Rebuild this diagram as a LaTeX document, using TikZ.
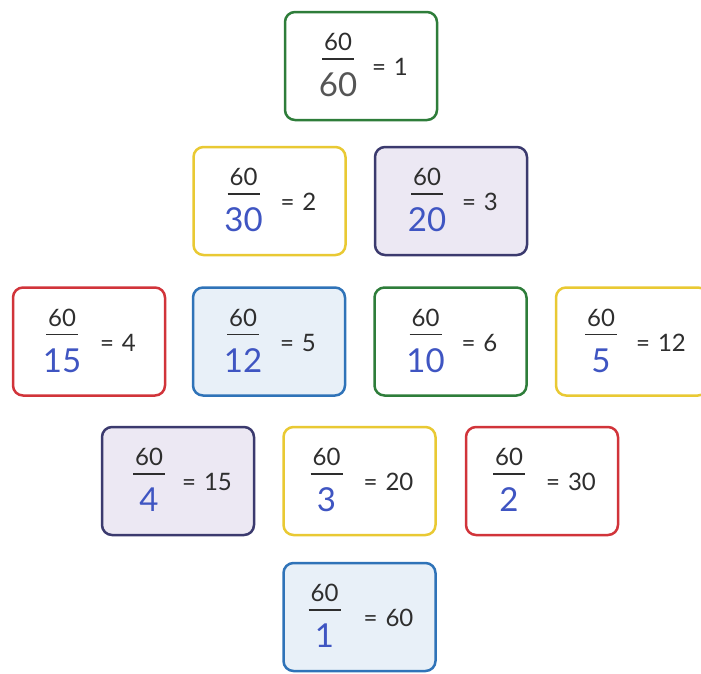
\documentclass[tikz,border=0pt]{standalone}
\usepackage{fontspec}
\setmainfont{Lato}
\usepackage{tikz}
\usetikzlibrary{positioning,calc}
\definecolor{cardGreen}{HTML}{2E7D3A}
\definecolor{cardYellow}{HTML}{E9C933}
\definecolor{cardPurple}{HTML}{3B3A6E}
\definecolor{cardRed}{HTML}{D1343A}
\definecolor{cardBlue}{HTML}{2F73B8}
\definecolor{fillBlue}{HTML}{E8F0F8}
\definecolor{fillLav}{HTML}{ECE8F3}
\definecolor{inkGray}{HTML}{2E2E2E}
\definecolor{penBlue}{HTML}{3F55C2}
\definecolor{pencilGray}{HTML}{555555}

\begin{document}
\begin{tikzpicture}[x=1pt,y=-1pt,
  card/.style={draw=#1,line width=2.5pt,rounded corners=10pt,minimum width=152pt,minimum height=108pt},
  numtext/.style={text=inkGray,font=\fontsize{24}{26}\selectfont,inner sep=0pt},
  handtext/.style={font=\fontsize{33}{35}\selectfont,inner sep=0pt},
  eqtext/.style={text=inkGray,font=\fontsize{24}{26}\selectfont,inner sep=0pt},
  fracbar/.style={draw=inkGray,line width=1.6pt}]
\useasboundingbox (0,0) rectangle (701,673);
% cards: name/x/y/border/fill/pen/denominator/value/fraction shift
\foreach \nm/\x/\y/\col/\fil/\pen/\den/\val/\fx in {
  one/361/66/cardGreen/white/pencilGray/60/1/-23,
  two/269.5/201/cardYellow/white/penBlue/30/2/-26,
  three/451/201/cardPurple/fillLav/penBlue/20/3/-24,
  four/89/341.5/cardRed/white/penBlue/15/4/-27,
  five/269/341.5/cardBlue/fillBlue/penBlue/12/5/-26,
  six/450.5/341.5/cardGreen/white/penBlue/10/6/-25,
  twelve/632/341.5/cardYellow/white/penBlue/5/12/-31,
  fifteen/178/481/cardPurple/fillLav/penBlue/4/15/-29,
  twenty/359.5/481/cardYellow/white/penBlue/3/20/-33,
  thirty/542/481/cardRed/white/penBlue/2/30/-33,
  sixty/359.5/617/cardBlue/fillBlue/penBlue/1/60/-35}{
  \node[card=\col, fill=\fil] (card-\nm) at (\x,\y) {};
  \node[numtext] (num-\nm) at ($(card-\nm.center)+(\fx,-24)$) {60};
  \draw[fracbar] ($(card-\nm.center)+(\fx-16,-7)$) -- ++(32,0);
  \node[handtext, text=\pen] (den-\nm) at ($(card-\nm.center)+(\fx,19)$) {\den};
  \node[eqtext] (val-\nm) at ($(card-\nm.center)+(29,1)$) {=\hspace{8pt}\val};
}
\end{tikzpicture}
\end{document}
